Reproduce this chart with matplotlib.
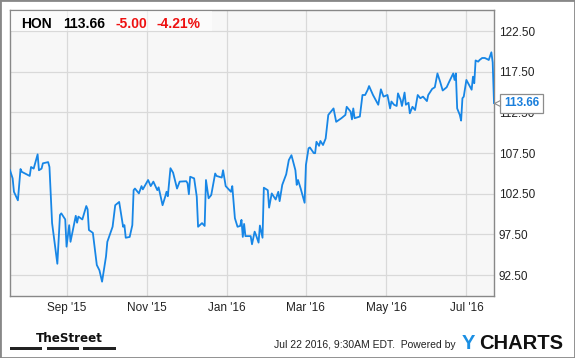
import pandas as pd
import matplotlib.pyplot as plt
from matplotlib.patches import Rectangle

# HON daily close (vertices of the line)
dates = [
    "2015-07-20", "2015-07-22", "2015-07-23", "2015-07-26", "2015-07-28", "2015-07-29",
    "2015-08-04", "2015-08-05", "2015-08-07", "2015-08-10", "2015-08-11", "2015-08-13",
    "2015-08-14", "2015-08-18", "2015-08-19", "2015-08-21", "2015-08-23", "2015-08-25",
    "2015-08-27", "2015-08-28", "2015-08-31", "2015-09-01", "2015-09-03", "2015-09-04",
    "2015-09-08", "2015-09-09", "2015-09-10", "2015-09-13", "2015-09-16", "2015-09-17",
    "2015-09-18", "2015-09-21", "2015-09-24", "2015-09-26", "2015-09-28", "2015-10-01",
    "2015-10-02", "2015-10-06", "2015-10-08", "2015-10-11", "2015-10-14", "2015-10-15",
    "2015-10-16", "2015-10-19", "2015-10-21", "2015-10-22", "2015-10-23", "2015-10-26",
    "2015-10-28", "2015-10-29", "2015-11-02", "2015-11-04", "2015-11-06", "2015-11-09",
    "2015-11-10", "2015-11-13", "2015-11-15", "2015-11-16", "2015-11-17", "2015-11-19",
    "2015-11-21", "2015-11-24", "2015-11-26", "2015-12-01", "2015-12-02", "2015-12-03",
    "2015-12-04", "2015-12-07", "2015-12-09", "2015-12-10", "2015-12-13", "2015-12-15",
    "2015-12-16", "2015-12-18", "2015-12-20", "2015-12-23", "2015-12-24", "2015-12-28",
    "2015-12-29", "2015-12-31", "2016-01-04", "2016-01-05", "2016-01-07", "2016-01-09",
    "2016-01-11", "2016-01-12", "2016-01-13", "2016-01-14", "2016-01-15", "2016-01-19",
    "2016-01-20", "2016-01-22", "2016-01-23", "2016-01-25", "2016-01-26", "2016-01-28",
    "2016-01-29", "2016-02-01", "2016-02-02", "2016-02-04", "2016-02-07", "2016-02-09",
    "2016-02-10", "2016-02-12", "2016-02-15", "2016-02-17", "2016-02-19", "2016-02-22",
    "2016-02-23", "2016-02-24", "2016-02-26", "2016-02-29", "2016-03-01", "2016-03-03",
    "2016-03-04", "2016-03-07", "2016-03-08", "2016-03-09", "2016-03-11", "2016-03-12",
    "2016-03-14", "2016-03-16", "2016-03-18", "2016-03-22", "2016-03-24", "2016-03-28",
    "2016-03-31", "2016-04-01", "2016-04-04", "2016-04-05", "2016-04-06", "2016-04-07",
    "2016-04-11", "2016-04-13", "2016-04-15", "2016-04-17", "2016-04-18", "2016-04-21",
    "2016-04-23", "2016-04-25", "2016-04-27", "2016-04-29", "2016-05-02", "2016-05-04",
    "2016-05-05", "2016-05-07", "2016-05-09", "2016-05-10", "2016-05-12", "2016-05-13",
    "2016-05-15", "2016-05-16", "2016-05-18", "2016-05-19", "2016-05-21", "2016-05-23",
    "2016-05-25", "2016-05-27", "2016-05-29", "2016-06-01", "2016-06-02", "2016-06-05",
    "2016-06-07", "2016-06-09", "2016-06-11", "2016-06-13", "2016-06-16", "2016-06-18",
    "2016-06-21", "2016-06-22", "2016-06-23", "2016-06-24", "2016-06-26", "2016-06-27",
    "2016-06-28", "2016-06-29", "2016-07-01", "2016-07-03", "2016-07-05", "2016-07-06",
    "2016-07-07", "2016-07-08", "2016-07-10", "2016-07-11", "2016-07-13", "2016-07-15",
    "2016-07-17", "2016-07-18", "2016-07-20", "2016-07-21", "2016-07-22",
]
prices = [
    105.4, 104.4, 102.75, 101.7, 105.55, 105.2,
    104.7, 105.8, 105.6, 107.35, 105.4, 105.6,
    106.25, 106.4, 105.8, 98.9, 96.4, 93.9,
    99.9, 100.1, 99.35, 96.0, 98.65, 96.6,
    99.8, 98.95, 99.7, 99.35, 101.0, 100.6,
    98.05, 97.7, 93.75, 93.1, 91.7, 94.8,
    96.6, 98.45, 101.1, 101.5, 98.45, 98.65,
    97.1, 97.2, 98.65, 102.95, 103.15, 102.55,
    103.45, 103.05, 104.2, 103.45, 104.0, 102.95,
    103.3, 101.1, 102.15, 102.75, 102.2, 105.65,
    105.1, 103.15, 104.0, 104.05, 103.8, 102.45,
    104.6, 104.4, 102.15, 98.45, 98.9, 98.55,
    104.2, 101.95, 102.35, 105.0, 104.7, 104.5,
    105.4, 103.45, 102.75, 103.45, 99.5, 98.45,
    98.55, 99.3, 97.2, 98.8, 97.3, 97.3,
    96.3, 97.85, 97.45, 96.5, 98.6, 97.1,
    103.25, 102.95, 100.8, 102.55, 101.8, 102.75,
    101.6, 103.6, 104.9, 106.65, 107.25, 105.4,
    103.6, 104.2, 103.15, 101.4, 106.05, 108.1,
    108.2, 107.5, 107.5, 108.9, 108.4, 109.0,
    108.5, 109.3, 112.2, 113.0, 111.35, 111.8,
    112.2, 113.2, 112.6, 111.65, 113.0, 111.8,
    112.0, 114.65, 114.65, 115.3, 115.75, 114.65,
    114.05, 113.45, 115.35, 114.45, 114.65, 113.0,
    113.85, 113.45, 113.3, 114.85, 114.05, 113.3,
    114.95, 113.45, 113.7, 112.4, 113.2, 112.8,
    114.65, 114.25, 114.45, 113.9, 114.65, 115.4,
    115.6, 117.3, 116.3, 115.2, 115.6, 116.3,
    117.3, 116.5, 117.3, 113.0, 112.2, 111.5,
    114.25, 114.45, 116.5, 115.9, 115.3, 116.9,
    116.1, 118.9, 118.75, 118.95, 119.2, 119.2,
    119.05, 118.95, 119.9, 118.66, 113.66,
]

ticker = "HON"
last_price = "113.66"
change = "-5.00"
change_pct = "-4.21%"

x_ticks = ["2015-09-01", "2015-11-01", "2016-01-01", "2016-03-01", "2016-05-01", "2016-07-01"]
x_labels = ["Sep '15", "Nov '15", "Jan '16", "Mar '16", "May '16", "Jul '16"]
y_ticks = [92.5, 97.5, 102.5, 107.5, 112.5, 117.5, 122.5]

W, H = 575, 358
plt.rcParams['font.family'] = ['Liberation Sans', 'DejaVu Sans']


def fx(px):
    return px / W


def fy(py):
    return 1 - py / H


fig = plt.figure(figsize=(W / 100, H / 100), dpi=100)
fig.patch.set_facecolor("white")
ax = fig.add_axes([fx(10), fy(295.5), fx(494) - fx(10), fy(10) - fy(295.5)])
ax.set_facecolor("#f7f7f7")

d = pd.to_datetime(dates)
ax.plot(d, prices, color="#1786e6", lw=1.3, zorder=3)

ax.set_xlim(pd.Timestamp("2015-07-20"), pd.Timestamp("2016-07-22"))
ax.set_ylim(90.0, 125.1)

ax.set_xticks(pd.to_datetime(x_ticks))
ax.set_xticklabels(x_labels)
ax.set_yticks(y_ticks)
ax.set_yticklabels([f"{v:.2f}" for v in y_ticks])
ax.yaxis.tick_right()
ax.tick_params(axis="both", length=0, labelsize=8.5, colors="#222222")
ax.tick_params(axis="y", pad=3.5)
ax.tick_params(axis="x", pad=4.5)
ax.grid(True, color="#d9d9d9", lw=0.9)
ax.set_axisbelow(True)
for s in ax.spines.values():
    s.set_color("#888888")
    s.set_linewidth(1.0)

# header box
fig.patches.append(Rectangle((fx(10.5), fy(31)), fx(212) - fx(10.5), fy(10.5) - fy(31),
                             transform=fig.transFigure, fc="white", alpha=0.55, ec="none", zorder=2))
base = fy(28.5)
fig.text(fx(21.5), base, ticker, fontsize=10, weight="bold", color="black", va="baseline")
fig.text(fx(63.3), base, last_price, fontsize=10, weight="bold", color="black", va="baseline")
fig.text(fx(115.7), base, change, fontsize=10, weight="bold", color="#ee1111", va="baseline")
fig.text(fx(156.7), base, change_pct, fontsize=10, weight="bold", color="#ee1111", va="baseline")

# last price tag
last = prices[-1]
ax.annotate(last_price, xy=(1, last), xycoords=("axes fraction", "data"),
            xytext=(7.2, 0), textcoords="offset points", ha="left", va="center",
            fontsize=8.5, weight="bold", color="#1a7fdc", annotation_clip=False,
            bbox=dict(boxstyle="square,pad=0.3", fc="white", ec="#8c8c8c", lw=0.9), zorder=5)
ax.plot([1.006], [last], marker="<", ms=5, mfc="white", mec="#8c8c8c", mew=0.8,
        transform=ax.get_yaxis_transform(), clip_on=False, zorder=6)

# footer
fig.text(fx(36), fy(341.5), "TheStreet", fontsize=9.5, weight="bold", stretch="condensed",
         family=["DejaVu Sans"], color="#111111", va="baseline")
for x0, x1 in [(10, 42.3), (46.7, 79), (83.3, 115.7)]:
    fig.patches.append(Rectangle((fx(x0), fy(350.3)), fx(x1) - fx(x0), fy(346.7) - fy(350.3),
                                 transform=fig.transFigure, fc="#222222", ec="none"))
fig.text(fx(274), fy(348.3), "Jul 22 2016, 9:30AM EDT.  Powered by", fontsize=7.5,
         color="#222222", va="baseline")
fig.text(fx(461.7), fy(349), "Y", fontsize=14.5, weight="bold", color="#1a8fe3", va="baseline")
fig.text(fx(479), fy(349), "CHARTS", fontsize=14.5, weight="bold", color="#111111", va="baseline")

# outer frame
fig.patches.append(Rectangle((0, 0), 1, 1, transform=fig.transFigure, fill=False,
                             ec="#888888", lw=2.0, zorder=10))

fig.savefig("out.png", dpi=100)
